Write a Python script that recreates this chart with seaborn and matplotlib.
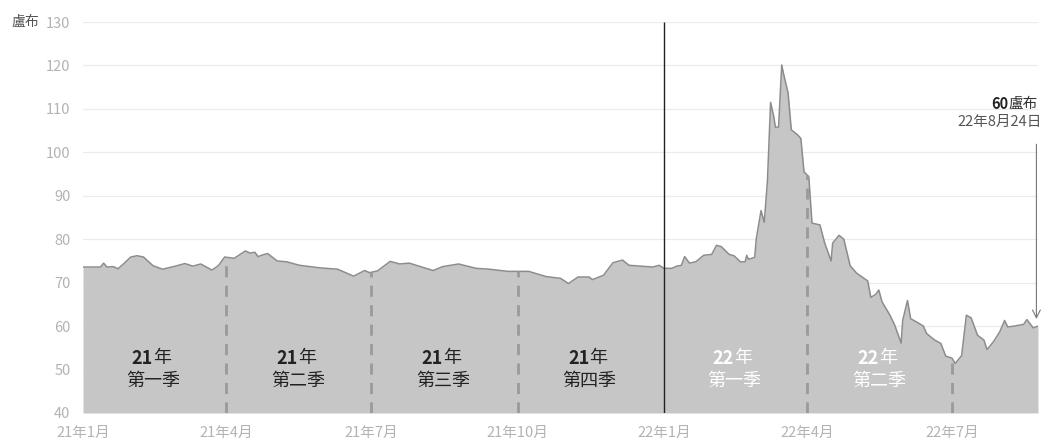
import numpy as np
import pandas as pd
import matplotlib
matplotlib.use("Agg")
import matplotlib.pyplot as plt
import matplotlib.dates as mdates
import seaborn as sns

# 盧布兌美元匯率
dates = [
    "2021-01-01", "2021-01-12", "2021-01-14", "2021-01-16", "2021-01-20", "2021-01-23",
    "2021-01-27", "2021-01-31", "2021-02-04", "2021-02-08", "2021-02-14", "2021-02-20",
    "2021-02-28", "2021-03-06", "2021-03-11", "2021-03-16", "2021-03-23", "2021-03-27",
    "2021-03-31", "2021-04-06", "2021-04-13", "2021-04-16", "2021-04-19", "2021-04-21",
    "2021-04-24", "2021-04-27", "2021-05-03", "2021-05-09", "2021-05-17", "2021-05-30",
    "2021-06-10", "2021-06-20", "2021-06-27", "2021-06-30", "2021-07-05", "2021-07-13",
    "2021-07-19", "2021-07-25", "2021-07-31", "2021-08-09", "2021-08-15", "2021-08-25",
    "2021-09-05", "2021-09-13", "2021-09-25", "2021-10-08", "2021-10-19", "2021-10-28",
    "2021-11-02", "2021-11-08", "2021-11-15", "2021-11-17", "2021-11-24", "2021-11-30",
    "2021-12-06", "2021-12-10", "2021-12-18", "2021-12-25", "2021-12-29", "2022-01-01",
    "2022-01-06", "2022-01-09", "2022-01-12", "2022-01-14", "2022-01-17", "2022-01-21",
    "2022-01-26", "2022-01-31", "2022-02-03", "2022-02-06", "2022-02-11", "2022-02-14",
    "2022-02-18", "2022-02-21", "2022-02-22", "2022-02-23", "2022-02-27", "2022-02-28",
    "2022-03-03", "2022-03-05", "2022-03-07", "2022-03-09", "2022-03-11", "2022-03-12",
    "2022-03-14", "2022-03-16", "2022-03-17", "2022-03-20", "2022-03-22", "2022-03-26",
    "2022-03-28", "2022-03-30", "2022-04-02", "2022-04-04", "2022-04-09", "2022-04-12",
    "2022-04-16", "2022-04-17", "2022-04-21", "2022-04-24", "2022-04-28", "2022-05-02",
    "2022-05-09", "2022-05-11", "2022-05-14", "2022-05-16", "2022-05-18", "2022-05-23",
    "2022-05-26", "2022-05-30", "2022-05-31", "2022-06-03", "2022-06-05", "2022-06-09",
    "2022-06-13", "2022-06-15", "2022-06-20", "2022-06-24", "2022-06-27", "2022-07-01",
    "2022-07-03", "2022-07-07", "2022-07-10", "2022-07-13", "2022-07-17", "2022-07-21",
    "2022-07-23", "2022-07-27", "2022-07-31", "2022-08-03", "2022-08-05", "2022-08-09",
    "2022-08-15", "2022-08-17", "2022-08-21", "2022-08-24",
]
rates = [
    73.6, 73.6, 74.5, 73.6, 73.7, 73.2,
    74.5, 75.9, 76.2, 75.9, 73.9, 73.1,
    73.8, 74.4, 73.8, 74.3, 72.9, 73.9,
    75.9, 75.6, 77.3, 76.8, 77.0, 76.0,
    76.4, 76.7, 75.0, 74.8, 74.0, 73.4,
    73.1, 71.5, 72.8, 72.3, 72.7, 74.9,
    74.3, 74.5, 73.8, 72.8, 73.7, 74.3,
    73.3, 73.1, 72.6, 72.6, 71.4, 71.0,
    69.8, 71.3, 71.3, 70.7, 71.7, 74.6,
    75.2, 74.0, 73.8, 73.6, 74.0, 73.3,
    73.3, 73.8, 74.0, 76.0, 74.5, 74.8,
    76.3, 76.5, 78.6, 78.3, 76.5, 76.2,
    74.8, 74.8, 76.3, 75.4, 75.8, 80.1,
    86.6, 83.9, 93.3, 111.5, 108.2, 105.8,
    105.8, 120.1, 118.3, 113.6, 105.2, 104.0,
    103.2, 95.5, 94.4, 83.7, 83.3, 79.1,
    75.0, 79.1, 80.9, 80.0, 73.9, 72.2,
    70.4, 66.6, 67.3, 68.3, 65.6, 62.5,
    60.2, 56.1, 61.3, 65.9, 61.7, 60.9,
    60.0, 58.3, 56.8, 56.0, 53.1, 52.6,
    51.4, 53.2, 62.5, 61.9, 57.9, 56.8,
    54.6, 56.4, 58.7, 61.3, 59.8, 60.0,
    60.4, 61.5, 59.6, 60.0,
]

tick_dates = ["2021-01-01", "2021-04-01", "2021-07-01", "2021-10-01",
              "2022-01-01", "2022-04-01", "2022-07-01"]
tick_labels = ["21年1月", "21年4月", "21年7月", "21年10月", "22年1月", "22年4月", "22年7月"]
quarter_lines = ["2021-04-01", "2021-07-01", "2021-10-01", "2022-04-01", "2022-07-01"]
quarter_mid = ["2021-02-14", "2021-05-16", "2021-08-15", "2021-11-15", "2022-02-14", "2022-05-16"]
quarter_year = ["21", "21", "21", "21", "22", "22"]
quarter_name = ["第一季", "第二季", "第三季", "第四季", "第一季", "第二季"]

df = pd.DataFrame({"date": pd.to_datetime(dates), "rate": rates})

sns.set_style("white")
plt.rcParams["font.family"] = ["Noto Sans CJK TC", "DejaVu Sans"]

fig = plt.figure(figsize=(10.56, 4.41), dpi=100)
ax = fig.add_axes([83 / 1056, 28 / 441, (1038 - 83) / 1056, (413 - 22) / 441])

ax.fill_between(df["date"], 40, df["rate"], color="#c6c6c6", lw=0, zorder=2)
sns.lineplot(data=df, x="date", y="rate", ax=ax, color="#8c8c8c", lw=1.1, zorder=3)

# 季度虛線（到曲線為止）
xnum = mdates.date2num(df["date"])
for d in quarter_lines:
    dn = mdates.date2num(pd.Timestamp(d))
    top = np.interp(dn, xnum, df["rate"])
    ax.vlines(pd.Timestamp(d), 40, top, colors="#9a9a9a", linestyles=(0, (4, 3)),
              lw=2, zorder=4)
ax.vlines(pd.Timestamp("2022-01-01"), 40, 130, colors="#222222", lw=1, zorder=5)

# 季度標籤
for i, d in enumerate(quarter_mid):
    c = "#222222" if quarter_year[i] == "21" else "white"
    x = pd.Timestamp(d)
    ax.text(x, 52.6, quarter_year[i], ha="right", va="center", fontsize=13,
            fontweight="bold", color=c, zorder=6)
    ax.text(x, 52.6, "年", ha="left", va="center", fontsize=13, color=c, zorder=6)
    ax.text(x, 47.3, quarter_name[i], ha="center", va="center", fontsize=13,
            color=c, zorder=6)

# 最新值註記
end = df["date"].iloc[-1]
last = end - pd.Timedelta(days=1)
ax.annotate("", xy=(last, 61.0), xytext=(last, 102.5),
            arrowprops=dict(arrowstyle="->", color="#777777", lw=0.8,
                            mutation_scale=14), zorder=6)
ax.annotate("22年8月24日", xy=(end, 107.0), xytext=(3, 0), textcoords="offset points",
            ha="right", va="center", fontsize=10.5, color="#555555")
ax.annotate("盧布", xy=(end, 111.2), xytext=(0, 0), textcoords="offset points",
            ha="right", va="center", fontsize=10.5, color="#333333")
ax.annotate("60", xy=(end, 111.2), xytext=(-21.5, 0), textcoords="offset points",
            ha="right", va="center", fontsize=10.5, fontweight="bold", color="#222222")

ax.set_xlim(pd.Timestamp("2021-01-01"), end)
ax.set_ylim(40, 130)
ax.set_yticks(range(40, 131, 10))
ax.set_xticks(pd.to_datetime(tick_dates))
ax.set_xticklabels(tick_labels)
ax.tick_params(axis="both", length=0, labelsize=10.5, labelcolor="#b3b3b3")
ax.tick_params(axis="y", pad=9)
ax.tick_params(axis="x", pad=9)
ax.grid(axis="y", color="#ececec", lw=0.9, zorder=0)
ax.set_axisbelow(True)
ax.set_xlabel("")
ax.set_ylabel("")
for s in ax.spines.values():
    s.set_visible(False)

fig.text(11 / 1056, 1 - 22 / 441, "盧布", ha="left", va="center", fontsize=10,
         color="#555555")

fig.savefig("out.png", dpi=100)
